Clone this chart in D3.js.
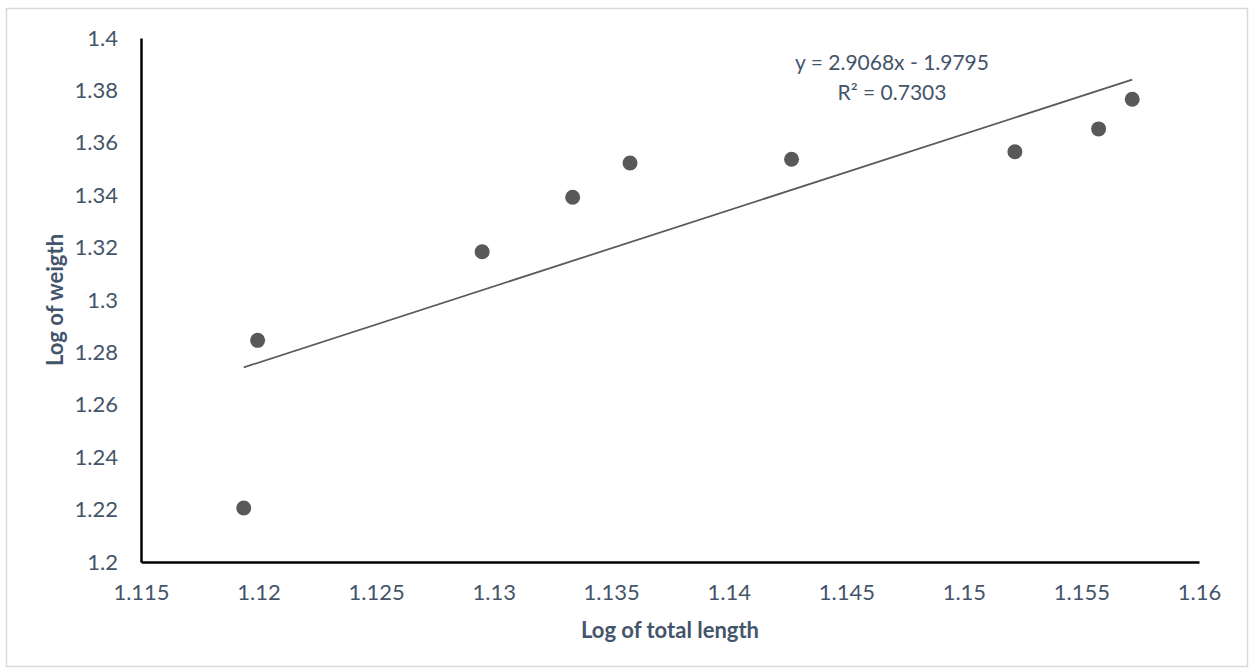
<!DOCTYPE html>
<html>
<head>
<meta charset="utf-8">
<script src="https://cdn.jsdelivr.net/npm/d3@7"></script>
<style>
  body { margin: 0; background: #fff; }
  text { font-family: Lato, "Open Sans", sans-serif; fill: #44546A; }
</style>
</head>
<body>
<div id="scatter"></div>
<script>
// data
var logLength = [1.11937, 1.11996, 1.12951, 1.13336, 1.1358, 1.14267, 1.15217, 1.15573, 1.15716];
var logWeight = [1.2206, 1.2846, 1.3184, 1.3392, 1.3523, 1.3537, 1.3566, 1.3653, 1.3766];
var xTicks = [1.115, 1.12, 1.125, 1.13, 1.135, 1.14, 1.145, 1.15, 1.155, 1.16];
var yTicks = [1.2, 1.22, 1.24, 1.26, 1.28, 1.3, 1.32, 1.34, 1.36, 1.38, 1.4];
var trendSlope = 2.9068;
var trendIntercept = -1.9795;
var rSquared = 0.7303;

var svgWidth = 1249;
var svgHeight = 672;

var margin = { top: 38, right: 50, bottom: 110, left: 141 };

var width = svgWidth - margin.left - margin.right;
var height = svgHeight - margin.top - margin.bottom;

var svg = d3.select("#scatter")
  .append("svg")
  .attr("width", svgWidth)
  .attr("height", svgHeight);

// chart border
svg.append("rect")
  .attr("x", 6.5)
  .attr("y", 8.5)
  .attr("width", svgWidth - 8)
  .attr("height", svgHeight - 14)
  .attr("fill", "none")
  .attr("stroke", "#D9D9D9")
  .attr("stroke-width", 1.5);

var chartGroup = svg.append("g")
  .attr("transform", `translate(${margin.left}, ${margin.top})`);

var xLinearScale = d3.scaleLinear()
  .domain([1.115, 1.16])
  .range([0, width]);

var yLinearScale = d3.scaleLinear()
  .domain([1.2, 1.4])
  .range([height, 0]);

var bottomAxis = d3.axisBottom(xLinearScale)
  .tickValues(xTicks)
  .tickSize(0)
  .tickPadding(22)
  .tickFormat(d => +d.toFixed(3));

var leftAxis = d3.axisLeft(yLinearScale)
  .tickValues(yTicks)
  .tickSize(0)
  .tickPadding(23)
  .tickFormat(d => +d.toFixed(2));

var xAxisG = chartGroup.append("g")
  .attr("transform", `translate(0, ${height})`)
  .call(bottomAxis);

var yAxisG = chartGroup.append("g")
  .call(leftAxis);

[xAxisG, yAxisG].forEach(function(g) {
  g.select(".domain").attr("stroke", "#000").attr("stroke-width", 2.5);
  g.selectAll("text").attr("font-size", 22).attr("fill", "#44546A")
    .style("font-family", "Lato, 'Open Sans', sans-serif");
});

// trendline
var xExtent = d3.extent(logLength);
chartGroup.append("line")
  .attr("x1", xLinearScale(xExtent[0]))
  .attr("y1", yLinearScale(trendSlope * xExtent[0] + trendIntercept))
  .attr("x2", xLinearScale(xExtent[1]))
  .attr("y2", yLinearScale(trendSlope * xExtent[1] + trendIntercept))
  .attr("stroke", "#595959")
  .attr("stroke-width", 1.75);

// points
chartGroup.selectAll("circle")
  .data(logLength)
  .enter()
  .append("circle")
  .attr("cx", d => xLinearScale(d))
  .attr("cy", (d, i) => yLinearScale(logWeight[i]))
  .attr("r", 7.5)
  .attr("fill", "#595959");

// equation label
var eq = chartGroup.append("text")
  .attr("text-anchor", "middle")
  .attr("font-size", 21)
  .attr("transform", `translate(${892 - margin.left}, ${63 - margin.top})`);
eq.append("tspan").attr("x", 0).attr("dy", "0.35em")
  .text("y = " + trendSlope.toFixed(4) + "x - " + Math.abs(trendIntercept).toFixed(4));
eq.append("tspan").attr("x", 0).attr("dy", 30)
  .text("R² = " + rSquared.toFixed(4));

// axis titles
chartGroup.append("text")
  .attr("x", width / 2)
  .attr("y", height + 68)
  .attr("dy", "0.35em")
  .attr("text-anchor", "middle")
  .attr("font-size", 22)
  .attr("font-weight", "bold")
  .text("Log of total length");

chartGroup.append("text")
  .attr("transform", "rotate(-90)")
  .attr("x", 0 - height / 2)
  .attr("y", 55 - margin.left)
  .attr("dy", "0.35em")
  .attr("text-anchor", "middle")
  .attr("font-size", 22)
  .attr("font-weight", "bold")
  .text("Log of weigth");
</script>
</body>
</html>
